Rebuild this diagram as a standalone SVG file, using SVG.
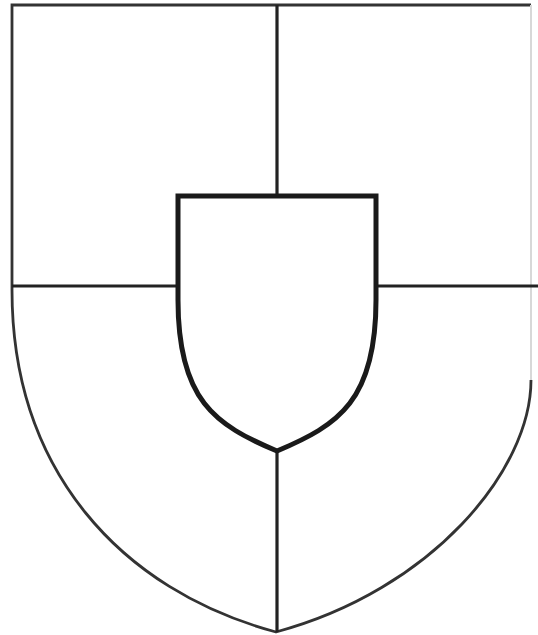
<svg xmlns="http://www.w3.org/2000/svg" width="538" height="635" viewBox="0 0 538 635">
<style>
.edge{fill:none;stroke:#333;stroke-width:2.8}
.div{stroke:#222;stroke-width:3.2;fill:none}
.inner{fill:#fff;stroke:#1a1a1a;stroke-width:5;stroke-linejoin:miter}
</style>
<rect width="538" height="635" fill="#fff"/>
<path class="edge" d="M531,5 H12 V290 C12,470 120,590 276,632 C432,590 531,470 531,380"/>
<path d="M531,5 V380" fill="none" stroke="#d8d8d8" stroke-width="2"/>
<g class="div">
<line x1="277" y1="5" x2="277" y2="196"/>
<line x1="12" y1="286" x2="178" y2="286"/>
<line x1="376" y1="286" x2="538" y2="286"/>
<line x1="277" y1="451" x2="277" y2="632"/>
</g>
<path class="inner" d="M178,196 H376 V300 C376,400 339,425 277,451 C215,425 178,400 178,300 Z"/>
</svg>
